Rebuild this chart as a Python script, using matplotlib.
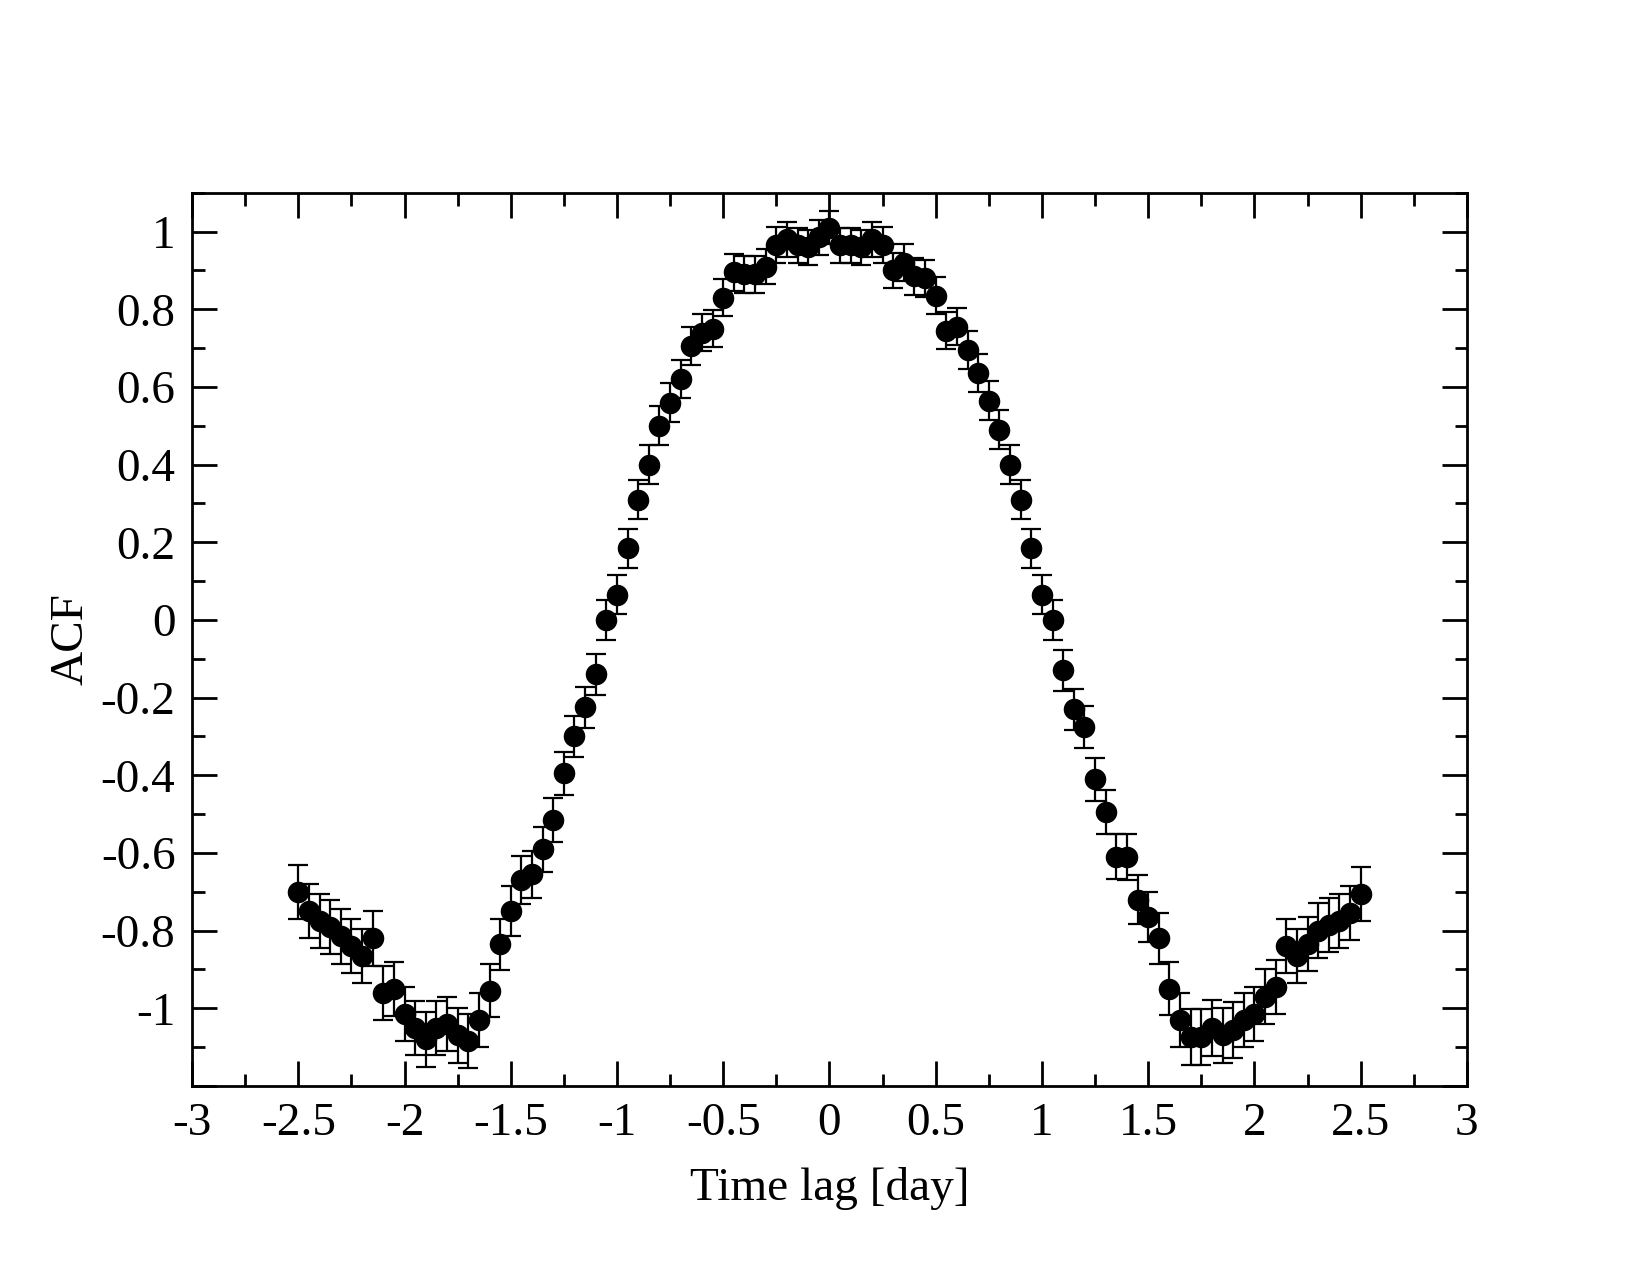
import numpy as np
import matplotlib
matplotlib.use("Agg")
import matplotlib.pyplot as plt
from matplotlib.ticker import MultipleLocator, FuncFormatter

# Time lags (day)
lag = [-2.50, -2.45, -2.40, -2.35, -2.30, -2.25, -2.20, -2.15, -2.10, -2.05,
       -2.00, -1.95, -1.90, -1.85, -1.80, -1.75, -1.70, -1.65, -1.60, -1.55,
       -1.50, -1.45, -1.40, -1.35, -1.30, -1.25, -1.20, -1.15, -1.10, -1.05,
       -1.00, -0.95, -0.90, -0.85, -0.80, -0.75, -0.70, -0.65, -0.60, -0.55,
       -0.50, -0.45, -0.40, -0.35, -0.30, -0.25, -0.20, -0.15, -0.10, -0.05,
       0.00, 0.05, 0.10, 0.15, 0.20, 0.25, 0.30, 0.35, 0.40, 0.45,
       0.50, 0.55, 0.60, 0.65, 0.70, 0.75, 0.80, 0.85, 0.90, 0.95,
       1.00, 1.05, 1.10, 1.15, 1.20, 1.25, 1.30, 1.35, 1.40, 1.45,
       1.50, 1.55, 1.60, 1.65, 1.70, 1.75, 1.80, 1.85, 1.90, 1.95,
       2.00, 2.05, 2.10, 2.15, 2.20, 2.25, 2.30, 2.35, 2.40, 2.45, 2.50]

# ACF values
acf = [-0.700, -0.750, -0.775, -0.790, -0.815, -0.840, -0.865, -0.820, -0.960, -0.950,
       -1.015, -1.050, -1.080, -1.050, -1.040, -1.070, -1.085, -1.030, -0.955, -0.835,
       -0.750, -0.670, -0.655, -0.590, -0.515, -0.395, -0.300, -0.225, -0.140, 0.000,
       0.065, 0.185, 0.310, 0.400, 0.500, 0.560, 0.620, 0.705, 0.740, 0.750,
       0.830, 0.895, 0.890, 0.890, 0.910, 0.965, 0.980, 0.965, 0.960, 0.985,
       1.010, 0.965, 0.965, 0.960, 0.980, 0.965, 0.900, 0.920, 0.885, 0.880,
       0.835, 0.745, 0.755, 0.695, 0.635, 0.565, 0.490, 0.400, 0.310, 0.185,
       0.065, 0.000, -0.130, -0.230, -0.275, -0.410, -0.495, -0.610, -0.610, -0.720,
       -0.765, -0.820, -0.950, -1.030, -1.075, -1.075, -1.050, -1.070, -1.055, -1.030,
       -1.015, -0.970, -0.945, -0.840, -0.865, -0.835, -0.800, -0.785, -0.775, -0.755, -0.705]

# Error bar half-widths
err = [0.070, 0.070, 0.070, 0.070, 0.070, 0.070, 0.070, 0.070, 0.070, 0.070,
       0.070, 0.070, 0.070, 0.070, 0.070, 0.070, 0.070, 0.070, 0.068, 0.066,
       0.064, 0.062, 0.060, 0.058, 0.056, 0.055, 0.054, 0.053, 0.052, 0.051,
       0.050, 0.050, 0.050, 0.050, 0.050, 0.050, 0.049, 0.049, 0.048, 0.048,
       0.048, 0.047, 0.047, 0.047, 0.046, 0.046, 0.046, 0.045, 0.045, 0.045,
       0.042, 0.045, 0.045, 0.045, 0.046, 0.046, 0.046, 0.047, 0.047, 0.047,
       0.048, 0.048, 0.048, 0.049, 0.049, 0.050, 0.050, 0.050, 0.050, 0.050,
       0.050, 0.051, 0.052, 0.053, 0.054, 0.055, 0.056, 0.058, 0.060, 0.062,
       0.064, 0.066, 0.068, 0.070, 0.072, 0.072, 0.072, 0.072, 0.072, 0.070,
       0.070, 0.070, 0.070, 0.070, 0.070, 0.070, 0.070, 0.070, 0.070, 0.070, 0.070]

plt.rcParams['font.family'] = ['Liberation Serif', 'DejaVu Serif']

fig = plt.figure(figsize=(16.5, 12.77), dpi=100)
ax = fig.add_axes([0.1164, 0.1496, 0.7726, 0.6994])

ax.errorbar(lag, acf, yerr=err, fmt='o', color='black', markersize=14.5,
            ecolor='black', elinewidth=1.6, capsize=7, capthick=1.6)

ax.set_xlim(-3, 3)
ax.set_ylim(-1.2, 1.1)
ax.xaxis.set_major_locator(MultipleLocator(0.5))
ax.xaxis.set_minor_locator(MultipleLocator(0.25))
ax.yaxis.set_major_locator(MultipleLocator(0.2))
ax.yaxis.set_minor_locator(MultipleLocator(0.1))

def fmt_num(v):
    if abs(v) < 1e-9:
        return "0"
    s = f"{v:.1f}"
    if s.endswith(".0"):
        s = s[:-2]
    return s

def fmt_x(v, pos):
    return fmt_num(v)

def fmt_y(v, pos):
    if v < -1.15:
        return ""
    return fmt_num(v)

ax.xaxis.set_major_formatter(FuncFormatter(fmt_x))
ax.yaxis.set_major_formatter(FuncFormatter(fmt_y))

for sp in ax.spines.values():
    sp.set_linewidth(2)

ax.tick_params(which='both', direction='in', top=True, right=True, width=2,
               labelsize=34, pad=12)
ax.tick_params(which='major', length=18)
ax.tick_params(which='minor', length=9)

ax.set_xlabel('Time lag [day]', fontsize=34, labelpad=16)
ax.set_ylabel('ACF', fontsize=34, labelpad=6)

fig.savefig('out.png', dpi=100)
